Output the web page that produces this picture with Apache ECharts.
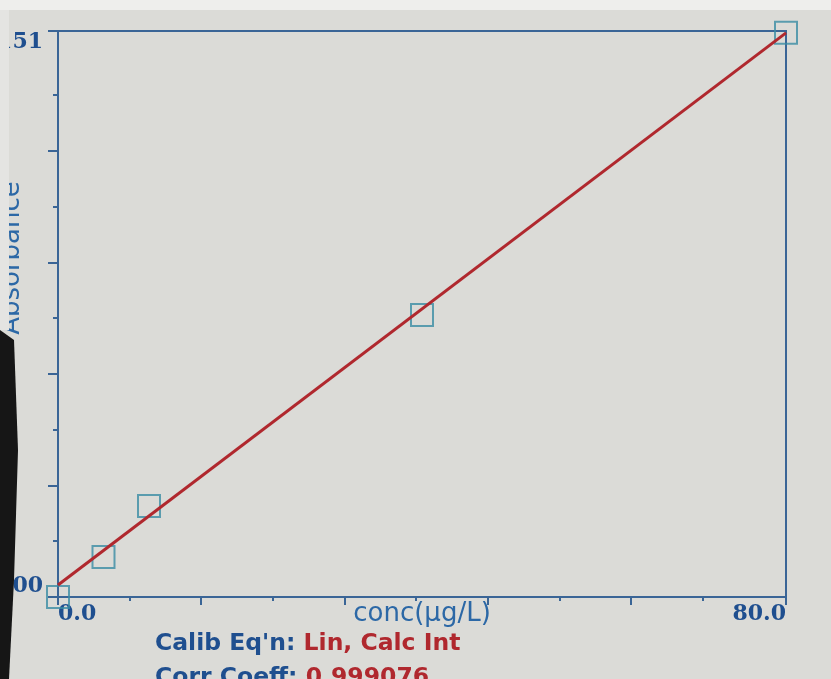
<!DOCTYPE html>
<html><head><meta charset="utf-8">
<script src="https://cdn.jsdelivr.net/npm/echarts@6/dist/echarts.min.js"></script>
<style>html,body{margin:0;padding:0;background:#dbdbd7;}#c{width:831px;height:679px;}</style>
</head><body><div id="c"></div>
<script>
// ---- data ----
const conc = [0, 5, 10, 40, 80];
const absorbance = [0.0, 0.0107, 0.0243, 0.0752, 0.1505];
const fitConc = [0, 80];
const fitAbs = [0.0032, 0.1505];
const xRange = [0, 80];
const yRange = [0, 0.151];
const xTickStep = 7.87;
const yTickStep = 0.01488;
const xLabelValues = [0, 80];
const yLabelValues = [0, 0.151];
const xName = "conc(µg/L)";
const yName = "Absorbance";
const eqnLabel = "Calib Eq'n: ";
const eqnValue = "Lin, Calc Int";
const corrLabel = "Corr Coeff: ";
const corrValue = "0.999076";

// ---- styling ----
const AX = '#3a6596';
const LBL = '#1f4f8f';
const NAME = '#2c68a6';
const RED = '#b0282e';
const TEAL = '#3a8ca4';
const serifBold = {fontFamily: 'DejaVu Serif', fontWeight: 'bold', fontSize: 22, color: LBL};

function tickSets(range, step) {
  const minor = [], major = [range[0]];
  for (let k = 1; range[0] + k * step < range[1] - step * 0.5; k++) {
    (k % 2 ? minor : major).push(range[0] + k * step);
  }
  major.push(range[1]);
  return {minor, major};
}
const xt = tickSets(xRange, xTickStep);
const yt = tickSets(yRange, yTickStep);

const chart = echarts.init(document.getElementById('c'), null, {renderer: 'canvas'});
const pts = conc.map((c, i) => [c, absorbance[i]]);
const fit = fitConc.map((c, i) => [c, fitAbs[i]]);

chart.setOption({
  backgroundColor: '#dbdbd7',
  animation: false,
  grid: {left: 58, right: 45, top: 31, bottom: 82, show: true, borderColor: AX, borderWidth: 2,
         backgroundColor: 'transparent', containLabel: false, outerBoundsMode: 'none'},
  xAxis: [
    {type: 'value', position: 'bottom', min: xRange[0], max: xRange[1],
     axisLine: {show: true, onZero: false, lineStyle: {color: AX, width: 2}},
     splitLine: {show: false},
     axisTick: {show: true, inside: false, length: 4, customValues: xt.minor, lineStyle: {color: AX, width: 2}},
     axisLabel: Object.assign({customValues: [xLabelValues[0]], align: 'left', margin: 6, formatter: v => v.toFixed(1)}, serifBold),
     name: xName, nameLocation: 'middle', nameGap: 4, nameMoveOverlap: false,
     nameTextStyle: {fontFamily: 'DejaVu Sans', fontSize: 26, color: NAME, verticalAlign: 'top'}},
    {type: 'value', position: 'bottom', min: xRange[0], max: xRange[1],
     axisLine: {show: false, onZero: false},
     splitLine: {show: false},
     axisTick: {show: true, inside: false, length: 8, customValues: xt.major, lineStyle: {color: AX, width: 2}},
     axisLabel: Object.assign({customValues: [xLabelValues[1]], align: 'right', margin: 6, formatter: v => v.toFixed(1)}, serifBold)}
  ],
  yAxis: [
    {type: 'value', position: 'left', min: yRange[0], max: yRange[1],
     axisLine: {show: true, onZero: false, lineStyle: {color: AX, width: 2}},
     splitLine: {show: false},
     axisTick: {show: true, inside: false, length: 5, customValues: yt.minor, lineStyle: {color: AX, width: 2}},
     axisLabel: Object.assign({customValues: [yLabelValues[0]], verticalAlign: 'bottom', margin: 15, formatter: v => v.toFixed(3)}, serifBold)},
    {type: 'value', position: 'left', min: yRange[0], max: yRange[1],
     axisLine: {show: false, onZero: false},
     splitLine: {show: false},
     axisTick: {show: true, inside: false, length: 10, customValues: yt.major, lineStyle: {color: AX, width: 2}},
     axisLabel: Object.assign({customValues: [yLabelValues[1]], verticalAlign: 'top', margin: 15, formatter: v => v.toFixed(3)}, serifBold)}
  ],
  series: [
    {type: 'scatter', xAxisIndex: 0, yAxisIndex: 0, data: pts, symbol: 'rect', symbolSize: 22,
     itemStyle: {color: 'rgba(0,0,0,0)', borderColor: TEAL, borderWidth: 2}, z: 3},
    {type: 'line', xAxisIndex: 0, yAxisIndex: 0, data: fit, symbol: 'none',
     lineStyle: {color: RED, width: 3}, z: 4}
  ],
  graphic: [
    {type: 'rect', shape: {x: 0, y: 0, width: 831, height: 10}, style: {fill: '#eeeeec'}, z: 0},
    {type: 'text', x: 12, y: 258, rotation: Math.PI / 2,
     style: {text: yName, fontFamily: 'DejaVu Sans', fontSize: 26, fill: NAME, align: 'center', verticalAlign: 'middle'}, z: 5},
    {type: 'rect', shape: {x: 0, y: 10, width: 9, height: 320}, style: {fill: '#e4e4e2'}, z: 6},
    {type: 'polygon', shape: {points: [[0, 330], [14, 340], [18, 450], [14, 580], [9, 679], [0, 679]]}, style: {fill: '#161616'}, z: 6},
    {type: 'text', x: 155, y: 627,
     style: {
       text: '{b|' + eqnLabel + '}{r|' + eqnValue + '}\n{b|' + corrLabel + '}{r|' + corrValue + '}',
       rich: {
         b: {fontFamily: 'DejaVu Sans', fontWeight: 'bold', fontSize: 23.5, fill: LBL, lineHeight: 34},
         r: {fontFamily: 'DejaVu Sans', fontWeight: 'bold', fontSize: 23.5, fill: RED, lineHeight: 34}
       }
     }, z: 5}
  ]
});
</script>
</body></html>
